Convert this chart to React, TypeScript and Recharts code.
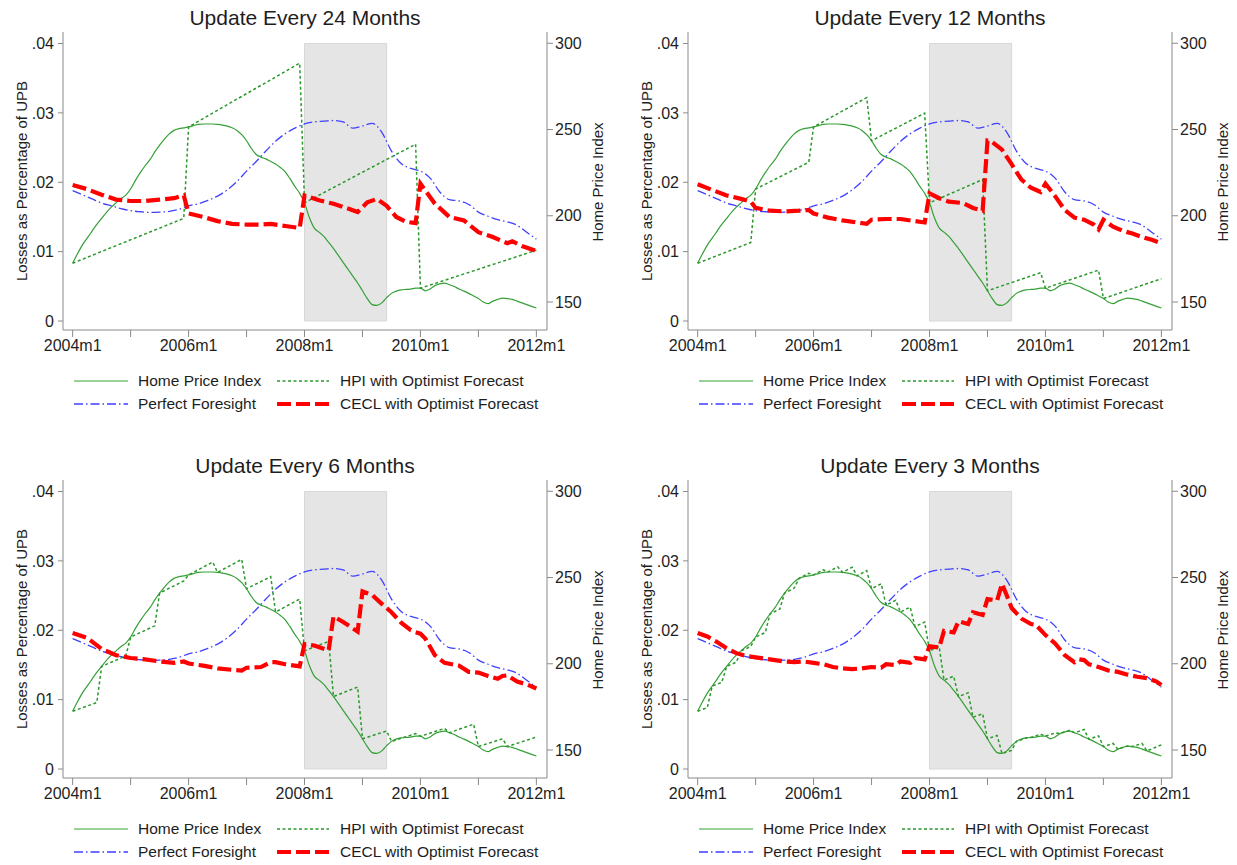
import { Line, LineChart, ReferenceArea, XAxis, YAxis } from "recharts";

const FONT = '"Liberation Sans", Arial, Helvetica, sans-serif';
const GREEN = "#35a035";
const GREEN_DOT = "#2a982a";
const BLUE = "#4040ff";
const RED = "#ff0000";
const AXIS = "#8a8a8a";
const TEXT = "#1e1e1e";
const SHADE = "#e5e5e5";

type Pair = [number, number];

const panelTitles = [
  "Update Every 24 Months",
  "Update Every 12 Months",
  "Update Every 6 Months",
  "Update Every 3 Months",
];

const xTicks = [0, 12, 24, 36, 48, 60, 72, 84, 96];
const labelledMonths = [0, 24, 48, 72, 96];
const monthLabels = ["2004m1", "2006m1", "2008m1", "2010m1", "2012m1"];
const leftTicks = [0, 0.01, 0.02, 0.03, 0.04];
const leftTickLabels = ["0", ".01", ".02", ".03", ".04"];
const rightTicks = [150, 200, 250, 300];
const recession: Pair = [48, 65];

// monthly home price index, 2004m1 .. 2012m1
const hpiIndex = [
  172.5, 178, 183, 187, 191, 195, 198.5, 202, 205, 207.5,
  210, 212, 215.5, 220.5, 225, 229, 232.5, 237, 241, 244.5,
  247.5, 249.5, 250.5, 251, 251.5, 252.3, 253, 253.2, 253.2, 253.2,
  253, 252.6, 252, 251, 249.5, 247, 243.5, 239, 235.5, 234,
  233, 231.5, 230, 228, 225.5, 221.5, 217, 213, 207.5, 199,
  193, 190.5, 188, 184.5, 181, 177, 173, 169, 165, 161,
  156.5, 152, 148.5, 148, 149.5, 152.5, 155, 156.3, 157, 157.3,
  157.5, 158, 158, 156.5, 157.5, 159.5, 160.5, 161, 160, 159,
  157.5, 156.3, 155, 153.5, 152, 150, 149, 150.5, 151.5, 152.2,
  152, 151.5, 150.5, 149.5, 148.5, 147.5, 146.5,
];

const perfectForesight: Pair[] = [
  [0, 0.0188], [2, 0.0182], [4, 0.0176], [6, 0.017], [8, 0.0166], [10, 0.0162],
  [12, 0.0159], [14, 0.01575], [16, 0.01565], [18, 0.0157], [20, 0.0158], [22, 0.0161],
  [24, 0.0166], [26, 0.0169], [28, 0.0174], [30, 0.018], [32, 0.0189], [34, 0.0201],
  [36, 0.0216], [38, 0.023], [40, 0.0245], [42, 0.0259], [44, 0.027], [46, 0.0278],
  [48, 0.0284], [50, 0.0287], [52, 0.0288], [54, 0.0289], [56, 0.0287], [58, 0.0278],
  [60, 0.0281], [62, 0.0285], [64, 0.0272], [66, 0.0245], [68, 0.0227], [70, 0.022],
  [72, 0.0216], [74, 0.0206], [76, 0.0186], [78, 0.0175], [80, 0.0173], [82, 0.0168],
  [84, 0.0157], [86, 0.0151], [88, 0.0146], [90, 0.0143], [92, 0.0138], [94, 0.0128],
  [96, 0.0118],
];

const optimist24: Pair[] = [
  [0, 172.5], [23, 198.5], [24, 251.5], [47, 288.5],
  [48, 207.5], [71, 241.5], [72, 158], [96, 180],
];
const optimist12: Pair[] = [
  [0, 172.5], [11, 184.5], [12, 215.5], [23, 231], [24, 251.5], [35, 268.5],
  [36, 243.5], [47, 259.5], [48, 207.5], [59, 221], [60, 156.5], [71, 167],
  [72, 158], [83, 168.5], [84, 152], [96, 163.5],
];
const optimist6: Pair[] = [
  [0, 172.5], [5, 177.5], [6, 198.5], [11, 204.5], [12, 215.5], [17, 222],
  [18, 241], [23, 248], [24, 251.5], [29, 259], [30, 253], [35, 260.5],
  [36, 243.5], [41, 250.5], [42, 230], [47, 237.5], [48, 207.5], [53, 213],
  [54, 181], [59, 186.5], [60, 156.5], [65, 161], [66, 155], [71, 159.5],
  [72, 158], [77, 162.5], [78, 160], [83, 165], [84, 152], [89, 156.5],
  [90, 152], [96, 157.5],
];
const optimist3: Pair[] = [
  [0, 172.5], [2, 174.6], [3, 187], [5, 189.2], [6, 198.5], [8, 200.9],
  [9, 207.5], [11, 210], [12, 215.5], [14, 218.1], [15, 229], [17, 231.7],
  [18, 241], [20, 243.9], [21, 249.5], [23, 252.5], [24, 251.5], [26, 254.5],
  [27, 253.2], [29, 256.2], [30, 253], [32, 256], [33, 251], [35, 254],
  [36, 243.5], [38, 246.4], [39, 234], [41, 236.8], [42, 230], [44, 232.8],
  [45, 221.5], [47, 224.2], [48, 207.5], [50, 210], [51, 190.5], [53, 192.8],
  [54, 181], [56, 183.2], [57, 169], [59, 171], [60, 156.5], [62, 158.4],
  [63, 148], [65, 149.8], [66, 155], [68, 156.9], [69, 157.3], [71, 159.2],
  [72, 158], [74, 159.9], [75, 159.5], [77, 161.4], [78, 160], [80, 161.9],
  [81, 156.3], [83, 158.2], [84, 152], [86, 153.8], [87, 150.5], [89, 152.3],
  [90, 152], [92, 153.8], [93, 149.5], [96, 153],
];

const cecl24: Pair[] = [
  [0, 0.0196], [3, 0.019], [6, 0.0182], [9, 0.0175], [12, 0.0173], [15, 0.0173],
  [18, 0.0175], [21, 0.0177], [23, 0.0181], [24, 0.0155], [27, 0.015], [30, 0.0144],
  [33, 0.014], [36, 0.0139], [39, 0.0139], [41, 0.014], [44, 0.0137], [47, 0.0134],
  [48, 0.0181], [51, 0.0174], [54, 0.0169], [57, 0.0162], [59, 0.0157], [61, 0.0171],
  [63, 0.0176], [65, 0.0166], [67, 0.015], [69, 0.0143], [71, 0.0141], [72, 0.0198],
  [75, 0.0169], [78, 0.015], [81, 0.0145], [84, 0.0128], [87, 0.0121], [90, 0.0112],
  [91, 0.0115], [93, 0.0108], [96, 0.0101],
];
const cecl12: Pair[] = [
  [0, 0.0197], [3, 0.0189], [6, 0.0181], [9, 0.0176], [11, 0.0172], [12, 0.0163],
  [15, 0.0159], [18, 0.0158], [21, 0.0159], [23, 0.016], [24, 0.0155], [27, 0.0149],
  [30, 0.0145], [33, 0.0142], [35, 0.014], [36, 0.0146], [39, 0.0147], [42, 0.0147],
  [45, 0.0144], [47, 0.0142], [48, 0.0184], [50, 0.0177], [52, 0.0172], [55, 0.017],
  [57, 0.0163], [59, 0.0159], [60, 0.026], [61, 0.0258], [63, 0.0247], [65, 0.0226],
  [67, 0.0204], [69, 0.0192], [71, 0.0186], [72, 0.0198], [74, 0.018], [76, 0.016],
  [78, 0.0149], [80, 0.0146], [82, 0.0139], [83, 0.0132], [84, 0.0146], [86, 0.0136],
  [88, 0.013], [90, 0.0126], [92, 0.0121], [94, 0.0117], [96, 0.0112],
];
const cecl6: Pair[] = [
  [0, 0.0196], [3, 0.0189], [6, 0.0173], [9, 0.0164], [12, 0.016], [15, 0.0158],
  [18, 0.0155], [21, 0.0153], [23, 0.0155], [24, 0.0152], [27, 0.0149], [30, 0.0145],
  [33, 0.0143], [35, 0.0142], [36, 0.0146], [39, 0.0147], [41, 0.0154], [42, 0.0154],
  [44, 0.0151], [47, 0.0148], [48, 0.018], [50, 0.0178], [53, 0.0171], [54, 0.022],
  [56, 0.0212], [59, 0.0198], [60, 0.0256], [62, 0.0251], [64, 0.0238], [66, 0.0226],
  [68, 0.0211], [70, 0.02], [71, 0.0197], [72, 0.0195], [73, 0.0188], [75, 0.0164],
  [77, 0.0153], [80, 0.0149], [82, 0.014], [84, 0.0139], [86, 0.0134], [88, 0.013],
  [89, 0.0134], [90, 0.0135], [92, 0.0126], [94, 0.0122], [96, 0.0116],
];
const cecl3: Pair[] = [
  [0, 0.0196], [2, 0.0191], [4, 0.0183], [6, 0.0174], [8, 0.0167], [10, 0.0163],
  [12, 0.0161], [14, 0.0159], [16, 0.0157], [18, 0.0155], [20, 0.0154], [22, 0.0155],
  [24, 0.0153], [26, 0.0151], [28, 0.0147], [30, 0.0145], [32, 0.0144], [34, 0.0145],
  [36, 0.0147], [38, 0.0146], [39, 0.0151], [41, 0.015], [42, 0.0155], [44, 0.0153],
  [45, 0.016], [47, 0.0158], [48, 0.0177], [50, 0.0175], [51, 0.0199], [53, 0.0197],
  [54, 0.0213], [56, 0.0209], [57, 0.0226], [59, 0.0222], [60, 0.0245], [62, 0.0243],
  [63, 0.0267], [64, 0.0250], [65, 0.0232], [67, 0.0217], [69, 0.0209], [70, 0.0208],
  [72, 0.0193], [74, 0.0181], [76, 0.0164], [78, 0.0154], [79, 0.0158], [80, 0.0157],
  [81, 0.0151], [83, 0.0147], [85, 0.0142], [87, 0.014], [89, 0.0136], [91, 0.0133],
  [93, 0.0131], [95, 0.0126], [96, 0.0121],
];

const toPoints = (pairs: Pair[]) => pairs.map(([m, v]) => ({ m, v }));
const hpiPoints = hpiIndex.map((v, m) => ({ m, v }));
const pfPoints = toPoints(perfectForesight);

const tickFont = { fill: TEXT, fontSize: 16, fontFamily: FONT };

function monthLabel(v: number) {
  const i = labelledMonths.indexOf(v);
  return i >= 0 ? monthLabels[i] : "";
}

function leftLabel(v: number) {
  const i = leftTicks.indexOf(v);
  return i >= 0 ? leftTickLabels[i] : "";
}

function LegendRow() {
  const text = { position: "absolute" as const, fontSize: 15.5, lineHeight: "18px", color: TEXT, whiteSpace: "nowrap" as const };
  return (
    <>
      <svg style={{ position: "absolute", left: 0, top: 0 }} width={612} height={420}>
        <line x1={74} x2={128} y1={381} y2={381} stroke={GREEN} strokeWidth={1.2} />
        <line x1={277} x2={329} y1={381} y2={381} stroke={GREEN_DOT} strokeWidth={1.5} strokeDasharray="3 2.5" />
        <line x1={74} x2={128} y1={404} y2={404} stroke={BLUE} strokeWidth={1.3} strokeDasharray="9 3 1.5 3" />
        <line x1={277} x2={329} y1={404} y2={404} stroke={RED} strokeWidth={4} strokeDasharray="14 5" />
      </svg>
      <div style={{ ...text, left: 138, top: 372 }}>Home Price Index</div>
      <div style={{ ...text, left: 340, top: 372 }}>HPI with Optimist Forecast</div>
      <div style={{ ...text, left: 138, top: 395 }}>Perfect Foresight</div>
      <div style={{ ...text, left: 340, top: 395 }}>CECL with Optimist Forecast</div>
    </>
  );
}

function Panel({
  title,
  optimist,
  cecl,
  left,
  top,
}: {
  title: string;
  optimist: Pair[];
  cecl: Pair[];
  left: number;
  top: number;
}) {
  const rotated = {
    position: "absolute" as const,
    transform: "translate(-50%, -50%) rotate(-90deg)",
    fontSize: 15,
    lineHeight: "15px",
    color: TEXT,
    whiteSpace: "nowrap" as const,
  };
  return (
    <div style={{ position: "absolute", left, top, width: 612, height: 420 }}>
      <div
        style={{
          position: "absolute",
          left: 0,
          top: 5,
          width: 610,
          textAlign: "center",
          fontSize: 21,
          lineHeight: "26px",
          color: TEXT,
        }}
      >
        {title}
      </div>
      <div style={{ position: "absolute", left: 0, top: 0 }}>
        <LineChart width={612} height={360} margin={{ top: 32, right: 0, bottom: 0, left: 0 }}>
          <XAxis
            type="number"
            dataKey="m"
            domain={[-2, 98.2]}
            allowDataOverflow
            ticks={xTicks}
            interval={0}
            tickFormatter={monthLabel}
            tickSize={7}
            tickMargin={3}
            height={30}
            axisLine={{ stroke: AXIS }}
            tickLine={{ stroke: AXIS }}
            tick={tickFont}
          />
          <YAxis
            yAxisId="l"
            type="number"
            domain={[-0.0012973, 0.041658]}
            allowDataOverflow
            ticks={leftTicks}
            interval={0}
            tickFormatter={leftLabel}
            width={63}
            tickSize={5}
            tickMargin={4}
            axisLine={{ stroke: AXIS }}
            tickLine={{ stroke: AXIS }}
            tick={tickFont}
          />
          <YAxis
            yAxisId="r"
            orientation="right"
            type="number"
            domain={[133.765, 306.55]}
            allowDataOverflow
            ticks={rightTicks}
            interval={0}
            width={65}
            tickSize={6}
            tickMargin={2}
            axisLine={{ stroke: AXIS }}
            tickLine={{ stroke: AXIS }}
            tick={tickFont}
          />
          <ReferenceArea
            yAxisId="l"
            x1={recession[0]}
            x2={recession[1]}
            y1={0}
            y2={0.04}
            fill={SHADE}
            fillOpacity={1}
            stroke="#d8d8d8"
            strokeWidth={1}
          />
          <Line
            yAxisId="r"
            data={hpiPoints}
            dataKey="v"
            type="monotone"
            stroke={GREEN}
            strokeWidth={1.2}
            dot={false}
            activeDot={false}
            isAnimationActive={false}
          />
          <Line
            yAxisId="l"
            data={pfPoints}
            dataKey="v"
            type="monotone"
            stroke={BLUE}
            strokeWidth={1.3}
            strokeDasharray="9 3 1.5 3"
            dot={false}
            activeDot={false}
            isAnimationActive={false}
          />
          <Line
            yAxisId="r"
            data={toPoints(optimist)}
            dataKey="v"
            type="linear"
            stroke={GREEN_DOT}
            strokeWidth={1.5}
            strokeDasharray="3 2.5"
            dot={false}
            activeDot={false}
            isAnimationActive={false}
          />
          <Line
            yAxisId="l"
            data={toPoints(cecl)}
            dataKey="v"
            type="linear"
            stroke={RED}
            strokeWidth={4.2}
            strokeDasharray="14 5"
            dot={false}
            activeDot={false}
            isAnimationActive={false}
          />
        </LineChart>
      </div>
      <div style={{ ...rotated, left: 21, top: 181 }}>Losses as Percentage of UPB</div>
      <div style={{ ...rotated, left: 597, top: 182 }}>Home Price Index</div>
      <LegendRow />
    </div>
  );
}

export default function App() {
  return (
    <div
      style={{
        position: "absolute",
        left: 0,
        top: 0,
        width: 1237,
        height: 865,
        background: "#fff",
        fontFamily: FONT,
        overflow: "hidden",
      }}
    >
      <Panel title={panelTitles[0]} optimist={optimist24} cecl={cecl24} left={0} top={0} />
      <Panel title={panelTitles[1]} optimist={optimist12} cecl={cecl12} left={625} top={0} />
      <Panel title={panelTitles[2]} optimist={optimist6} cecl={cecl6} left={0} top={448} />
      <Panel title={panelTitles[3]} optimist={optimist3} cecl={cecl3} left={625} top={448} />
    </div>
  );
}
